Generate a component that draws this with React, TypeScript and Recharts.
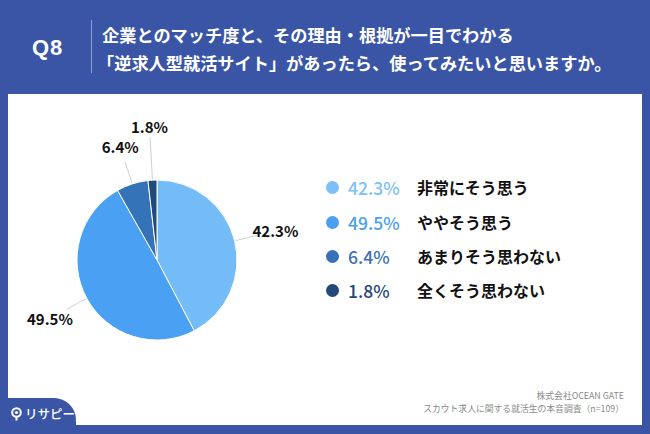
import { PieChart, Pie, Cell } from "recharts";

const categories = ["非常にそう思う", "ややそう思う", "あまりそう思わない", "全くそう思わない"];
const shares = [42.3, 49.5, 6.4, 1.8];
const sliceColors = ["#74bcf8", "#4aa0f2", "#3573b8", "#1f4a7c"];
const legendTextColors = ["#7dc0f8", "#4a9ff0", "#3a70b5", "#23497a"];

const titleLines = [
  "企業とのマッチ度と、その理由・根拠が一目でわかる",
  "「逆求人型就活サイト」があったら、使ってみたいと思いますか。",
];
const sourceLines = ["株式会社OCEAN GATE", "スカウト求人に関する就活生の本音調査（n=109）"];

const BLUE = "#3a55a5";
const FONT = '"Noto Sans CJK JP", "Noto Sans", sans-serif';
const RADIAN = Math.PI / 180;

const data = categories.map((name, i) => ({ name, value: shares[i] }));

function SliceLabel(props: any) {
  const { cx, cy, midAngle, outerRadius, index, value } = props;
  const small = index === 3;
  const lineEnd = small ? outerRadius + 43 : outerRadius + 23;
  const textR = small ? outerRadius + 54 : index === 2 ? outerRadius + 39 : outerRadius + 42;
  const cos = Math.cos(-midAngle * RADIAN);
  const sin = Math.sin(-midAngle * RADIAN);
  const r0 = outerRadius + 1;
  return (
    <g>
      <line
        x1={cx + r0 * cos}
        y1={cy + r0 * sin}
        x2={cx + lineEnd * cos}
        y2={cy + lineEnd * sin}
        stroke="#d0d0d0"
        strokeWidth={1}
      />
      <text
        x={cx + textR * cos}
        y={cy + textR * sin}
        textAnchor="middle"
        dominantBaseline="central"
        fill="#111"
        fontSize={15}
        fontWeight={700}
        fontFamily={FONT}
      >
        {value}%
      </text>
    </g>
  );
}

export default function App() {
  return (
    <div
      style={{
        position: "absolute",
        left: 0,
        top: 0,
        width: 650,
        height: 434,
        background: BLUE,
        fontFamily: FONT,
        overflow: "hidden",
      }}
    >
      {/* header */}
      <div
        style={{
          position: "absolute",
          left: 32,
          top: 34,
          color: "#fff",
          fontSize: 22,
          fontWeight: 700,
          letterSpacing: 1,
          fontFamily: '"Liberation Sans", Arial, sans-serif',
          lineHeight: "28px",
        }}
      >
        Q8
      </div>
      <div style={{ position: "absolute", left: 91, top: 20, width: 1, height: 53, background: "#8ea0d2" }} />
      <div style={{ position: "absolute", left: 102, top: 23, color: "#fff", fontSize: 17.2, fontWeight: 700, lineHeight: "24px", whiteSpace: "nowrap" }}>
        {titleLines[0]}
      </div>
      <div style={{ position: "absolute", left: 97, top: 51, color: "#fff", fontSize: 17.2, fontWeight: 700, lineHeight: "24px", whiteSpace: "nowrap" }}>
        {titleLines[1]}
      </div>

      {/* panel */}
      <div style={{ position: "absolute", left: 8, top: 94, width: 634, height: 331, background: "#fff" }} />

      <div style={{ position: "absolute", left: 0, top: 0 }}>
        <PieChart width={650} height={434} margin={{ top: 0, right: 0, bottom: 0, left: 0 }}>
          <Pie
            data={data}
            dataKey="value"
            nameKey="name"
            cx={157}
            cy={260}
            outerRadius={80}
            startAngle={90}
            endAngle={-270}
            stroke="#fff"
            strokeWidth={1}
            label={SliceLabel}
            labelLine={false}
            isAnimationActive={false}
          >
            {data.map((d, i) => (
              <Cell key={d.name} fill={sliceColors[i]} />
            ))}
          </Pie>
        </PieChart>
      </div>

      {/* legend */}
      {categories.map((c, i) => {
        const top = [187, 222, 256, 290][i];
        return (
          <div key={c} style={{ position: "absolute", left: 326, top: top - 12, height: 24, display: "flex", alignItems: "center" }}>
            <span style={{ width: 13, height: 13, borderRadius: "50%", background: legendTextColors[i], display: "inline-block" }} />
            <span style={{ position: "absolute", left: 22, color: legendTextColors[i], fontSize: 17.5, fontWeight: 500, whiteSpace: "nowrap" }}>
              {shares[i]}%
            </span>
            <span style={{ position: "absolute", left: 91, color: "#111", fontSize: 16, fontWeight: 700, whiteSpace: "nowrap" }}>
              {c}
            </span>
          </div>
        );
      })}

      {/* source */}
      <div style={{ position: "absolute", right: 26, top: 389, textAlign: "right", color: "#8a8a8a", fontSize: 8.8, lineHeight: "13px", whiteSpace: "nowrap" }}>
        {sourceLines.map((s) => (
          <div key={s}>{s}</div>
        ))}
      </div>

      {/* logo */}
      <div style={{ position: "absolute", left: 0, top: 398, width: 76, height: 36, background: BLUE, borderTopRightRadius: 22 }} />
      <div style={{ position: "absolute", left: 11, top: 404, display: "flex", alignItems: "center", color: "#fff" }}>
        <svg width={11} height={14} viewBox="0 0 11 14">
          <circle cx={5.5} cy={5.5} r={4.3} fill="none" stroke="#fff" strokeWidth={2} />
          <circle cx={5.5} cy={5.5} r={1.6} fill="#fff" />
          <rect x={4.5} y={9.5} width={2} height={4} fill="#fff" />
        </svg>
        <span style={{ marginLeft: 3, fontSize: 12.5, fontWeight: 500, letterSpacing: 0 }}>リサピー</span>
        <span style={{ fontSize: 5, marginTop: 10 }}>.</span>
      </div>
    </div>
  );
}
